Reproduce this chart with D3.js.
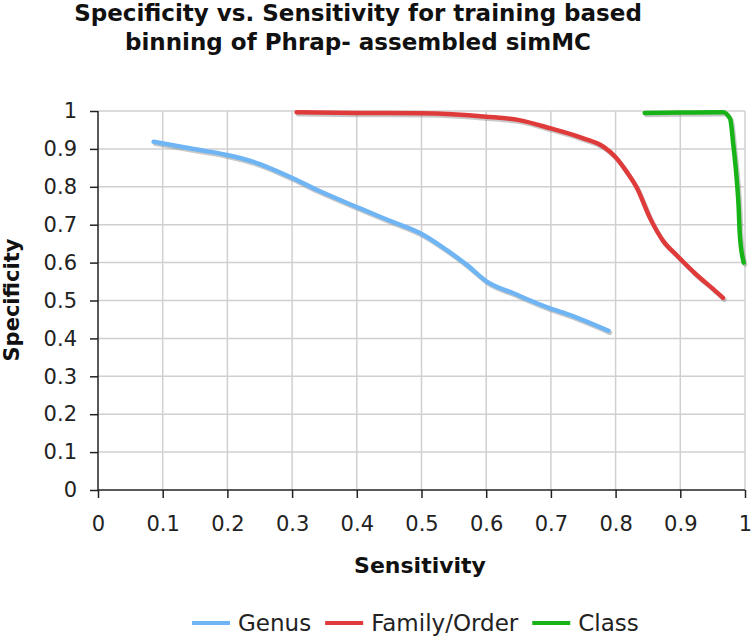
<!DOCTYPE html>
<html><head><meta charset="utf-8">
<script src="https://cdn.jsdelivr.net/npm/d3@7/dist/d3.min.js"></script>
<style>
body{margin:0;background:#fff;}
svg{display:block;font-family:"DejaVu Sans",Verdana,sans-serif;}
</style></head>
<body>
<svg id="chart" width="753" height="640"></svg>
<script>
const titleLines = ["Specificity vs. Sensitivity for training based", "binning of Phrap- assembled simMC"];
const xTitle = "Sensitivity";
const yTitle = "Specificity";
const ticks = [0,0.1,0.2,0.3,0.4,0.5,0.6,0.7,0.8,0.9,1];
const tickLabels = ["0","0.1","0.2","0.3","0.4","0.5","0.6","0.7","0.8","0.9","1"];
const seriesNames = ["Genus","Family/Order","Class"];
const seriesColors = ["#6fb5f4","#df3b3b","#17b317"];

const genusX = [0.086,0.150,0.199,0.240,0.302,0.338,0.405,0.450,0.503,0.539,0.570,0.601,0.642,0.699,0.719,0.789];
const genusY = [0.919,0.899,0.884,0.866,0.822,0.792,0.743,0.711,0.673,0.633,0.594,0.550,0.519,0.479,0.468,0.420];
const famX = [0.307,0.400,0.500,0.600,0.651,0.700,0.750,0.781,0.799,0.817,0.833,0.853,0.874,0.894,0.925,0.951,0.966];
const famY = [0.997,0.995,0.994,0.985,0.976,0.954,0.928,0.906,0.880,0.840,0.797,0.718,0.656,0.620,0.568,0.530,0.507];
const clsX = [0.845,0.900,0.966,0.977,0.982,0.987,0.990,0.992,0.998];
const clsY = [0.995,0.996,0.997,0.980,0.910,0.824,0.753,0.674,0.600];

const seriesXs = [genusX, famX, clsX];
const seriesYs = [genusY, famY, clsY];

const svg = d3.select("#chart");
const x = d3.scaleLinear().domain([0,1]).range([98,745]);
const y = d3.scaleLinear().domain([0,1]).range([490,111]);

// title
svg.append("g").selectAll("text").data(titleLines).join("text")
  .attr("x",358).attr("y",(d,i)=>21+i*29)
  .attr("text-anchor","middle").attr("font-size",23).attr("font-weight","bold")
  .attr("fill","#111").text(d=>d);

// grid
const grid = svg.append("g");
grid.selectAll("line.v").data(ticks.slice(1)).join("line")
  .attr("x1",d=>x(d)).attr("x2",d=>x(d)).attr("y1",y(0)).attr("y2",y(1))
  .attr("stroke","#d0d0d0").attr("stroke-width",1.5);
grid.selectAll("line.h").data(ticks.slice(1)).join("line")
  .attr("x1",x(0)).attr("x2",x(1)).attr("y1",d=>y(d)).attr("y2",d=>y(d))
  .attr("stroke","#d0d0d0").attr("stroke-width",1.5);

// axes
const xAxis = d3.axisBottom(x).tickValues(ticks).tickFormat((d,i)=>tickLabels[i]).tickSize(8).tickPadding(18);
const yAxis = d3.axisLeft(y).tickValues(ticks).tickFormat((d,i)=>tickLabels[i]).tickSize(8).tickPadding(13);
const gx = svg.append("g").attr("transform",`translate(0,${y(0)})`).call(xAxis);
const gy = svg.append("g").attr("transform",`translate(${x(0)},0)`).call(yAxis);
[gx,gy].forEach(g=>{
  g.select(".domain").attr("stroke","#222").attr("stroke-width",1.5);
  g.selectAll(".tick line").attr("stroke","#222").attr("stroke-width",1.5);
  g.selectAll(".tick text").attr("font-size",21).attr("fill","#222").attr("font-family","'DejaVu Sans',Verdana,sans-serif");
});
gx.select(".domain").attr("d",`M${x(0)},0H${x(1)}`);
gy.select(".domain").attr("d",`M0,${y(0)}V${y(1)}`);

// axis titles
svg.append("text").attr("x",420).attr("y",573).attr("text-anchor","middle")
  .attr("font-size",22).attr("font-weight","bold").attr("fill","#111").text(xTitle);
svg.append("text").attr("transform","translate(19,300) rotate(-90)").attr("text-anchor","middle")
  .attr("font-size",21).attr("font-weight","bold").attr("fill","#111").text(yTitle);

// lines
const line = d3.line().x(d=>x(d[0])).y(d=>y(d[1])).curve(d3.curveMonotoneX);
const plot = svg.append("g");
seriesXs.forEach((xs,k)=>{
  const pts = xs.map((v,i)=>[v, seriesYs[k][i]]);
  plot.append("path").datum(pts).attr("d",line).attr("fill","none")
    .attr("stroke","#888").attr("stroke-opacity",0.45).attr("stroke-width",4.5)
    .attr("stroke-linejoin","round").attr("stroke-linecap","round")
    .attr("transform","translate(1.5,2)");
  plot.append("path").datum(pts).attr("d",line).attr("fill","none")
    .attr("stroke",seriesColors[k]).attr("stroke-width",4.5)
    .attr("stroke-linejoin","round").attr("stroke-linecap","round");
});

// legend
const leg = svg.append("g");
let lx = 192;
const ly = 623;
seriesNames.forEach((name,k)=>{
  leg.append("line").attr("x1",lx).attr("x2",lx+38).attr("y1",ly).attr("y2",ly)
    .attr("stroke",seriesColors[k]).attr("stroke-width",4);
  const t = leg.append("text").attr("x",lx+46).attr("y",ly+8).attr("font-size",23)
    .attr("fill","#222").text(name);
  lx = lx + 46 + t.node().getComputedTextLength() + 14;
});
</script>
</body></html>
